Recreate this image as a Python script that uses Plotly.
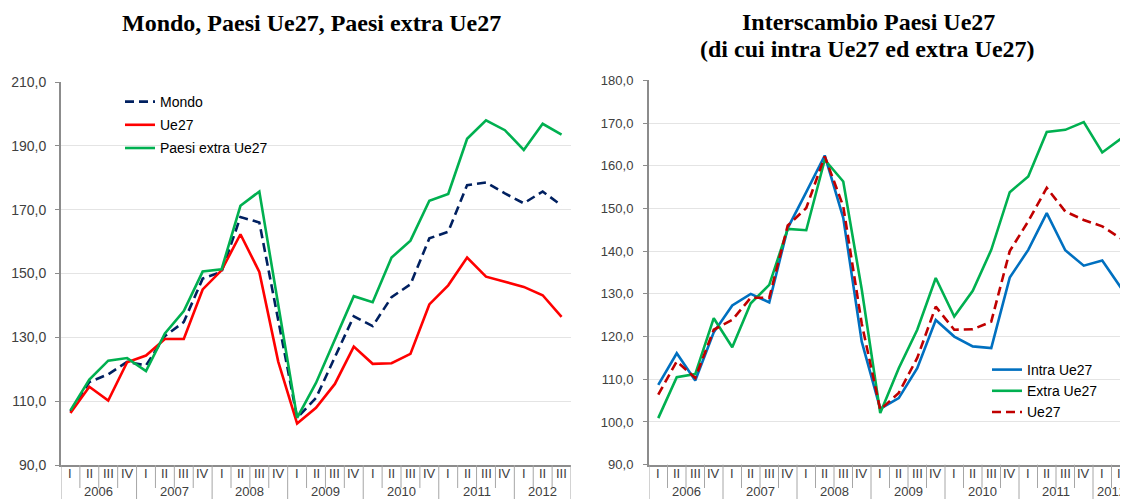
import plotly.graph_objects as go

W, H = 1128, 499

# ---------------- data ----------------
years = ["2006", "2007", "2008", "2009", "2010", "2011", "2012"]
quarters = ["I", "II", "III", "IV"]
n_last_year_quarters = 3

# Left panel: Mondo, Paesi Ue27, Paesi extra Ue27
mondo = [106.7, 116.0, 118.4, 122.3,
         121.2, 130.4, 134.8, 148.4,
         150.5, 167.7, 166.0, 136.0,
         104.8, 111.0, 124.0, 136.6,
         133.5, 142.6, 146.6, 161.0,
         163.1, 177.7, 178.5, 175.1,
         172.0, 175.7, 171.3]
ue27_left = [106.3, 114.5, 110.2, 122.2,
             124.3, 129.5, 129.5, 145.0,
             151.0, 162.3, 150.5, 122.4,
             103.0, 107.9, 115.4, 127.1,
             121.7, 121.9, 124.8, 140.3,
             146.3, 155.0, 149.0, 147.4,
             145.8, 143.2, 136.4]
extra_left = [107.1, 116.8, 122.7, 123.5,
              119.4, 131.2, 138.2, 150.6,
              151.3, 171.2, 175.7, 140.4,
              104.8, 115.7, 129.3, 142.9,
              141.0, 155.0, 160.3, 172.8,
              174.9, 192.2, 198.0, 194.9,
              188.7, 196.9, 193.5]

# Right panel: Interscambio Paesi Ue27
intra_right = [108.7, 116.1, 109.7, 121.0,
               127.3, 130.0, 128.0, 145.4,
               153.8, 162.4, 147.8, 118.8,
               103.1, 105.6, 112.6, 123.9,
               120.0, 117.7, 117.3, 133.8,
               140.3, 148.9, 140.2, 136.6,
               137.8, 131.5, 123.5]
extra_right = [100.9, 110.5, 111.2, 124.3,
               117.5, 127.8, 132.1, 145.2,
               144.9, 161.4, 156.3, 131.0,
               102.1, 112.6, 121.6, 133.7,
               124.7, 130.7, 140.3, 153.8,
               157.5, 167.9, 168.4, 170.2,
               163.1, 166.3, 163.2]
ue27_right = [106.4, 114.2, 110.3, 121.6,
              123.9, 129.1, 129.1, 146.0,
              150.1, 162.2, 150.5, 123.0,
              102.9, 106.8, 115.0, 127.0,
              121.6, 121.7, 123.5, 140.0,
              147.0, 154.8, 149.3, 147.3,
              145.8, 143.0, 136.0]

left_names = ["Mondo", "Ue27", "Paesi extra Ue27"]
right_names = ["Intra Ue27", "Extra Ue27", "Ue27"]
title_left = "Mondo, Paesi Ue27, Paesi extra Ue27"
title_right_1 = "Interscambio Paesi Ue27"
title_right_2 = "(di cui intra Ue27 ed extra Ue27)"

# ---------------- helpers ----------------
periods = []
for yi, yr in enumerate(years):
    qs = quarters if yi < len(years) - 1 else quarters[:n_last_year_quarters]
    for q in qs:
        periods.append((yr, q))
N = len(periods)
xs = list(range(N))


def py(px):
    return 1 - px / H


def pxx(px):
    return px / W


AX_GRAY = "#8c8c8c"
DIV_GRAY = "#a6a6a6"
TXT = "#404040"
SANS = "Liberation Sans, Arial, sans-serif"
SERIF = "Liberation Serif, Times New Roman, serif"

fig = go.Figure()

# Left traces
fig.add_trace(go.Scatter(x=xs, y=mondo, name=left_names[0], mode="lines",
                         line=dict(color="#002060", width=2.6, dash="9px,5px"),
                         xaxis="x", yaxis="y", legend="legend", legendgroup="a"))
fig.add_trace(go.Scatter(x=xs, y=ue27_left, name=left_names[1], mode="lines",
                         line=dict(color="#FF0000", width=2.6),
                         xaxis="x", yaxis="y", legend="legend", legendgroup="b"))
fig.add_trace(go.Scatter(x=xs, y=extra_left, name=left_names[2], mode="lines",
                         line=dict(color="#00B050", width=2.6),
                         xaxis="x", yaxis="y", legend="legend", legendgroup="c"))

# Right traces
fig.add_trace(go.Scatter(x=xs, y=intra_right, name=right_names[0], mode="lines",
                         line=dict(color="#0070C0", width=2.6),
                         xaxis="x2", yaxis="y2", legend="legend2", legendgroup="d"))
fig.add_trace(go.Scatter(x=xs, y=extra_right, name=right_names[1], mode="lines",
                         line=dict(color="#00B050", width=2.6),
                         xaxis="x2", yaxis="y2", legend="legend2", legendgroup="e"))
fig.add_trace(go.Scatter(x=xs, y=ue27_right, name=right_names[2], mode="lines",
                         line=dict(color="#C00000", width=2.6, dash="9px,5px"),
                         xaxis="x2", yaxis="y2", legend="legend2", legendgroup="f"))

# Axis geometry (pixels)
L_x0, L_x1 = 53, 563
R_x0, R_step = 641, 18.5
L_ytop, L_ybot = 74, 457
R_ytop, R_ybot = 72.3, 456.7

r_range_end = -0.5 + (W - R_x0) / R_step

common_x = dict(showgrid=False, zeroline=False, showticklabels=False, ticks="",
                showline=True, linecolor=AX_GRAY, linewidth=2, fixedrange=True)
common_y = dict(showgrid=True, gridcolor="#e4e4e4", gridwidth=1, zeroline=False,
                showline=True, linecolor=AX_GRAY, linewidth=2,
                ticks="outside", ticklen=4, tickcolor=AX_GRAY, tickwidth=1,
                tickformat=".1f", automargin=False, tick0=90,
                ticklabelstandoff=6,
                tickfont=dict(family=SANS, size=14, color=TXT))

fig.update_layout(
    width=W, height=H,
    margin=dict(l=0, r=0, t=0, b=0),
    paper_bgcolor="white", plot_bgcolor="white",
    separators=",.",
    showlegend=True,
    xaxis=dict(domain=[pxx(L_x0), pxx(L_x1)], range=[-0.5, N - 0.5], anchor="y", **common_x),
    yaxis=dict(domain=[py(L_ybot), py(L_ytop)], range=[90, 210], dtick=20, anchor="x", **common_y),
    xaxis2=dict(domain=[pxx(R_x0), 1], range=[-0.5, r_range_end], anchor="y2", **common_x),
    yaxis2=dict(domain=[py(R_ybot), py(R_ytop)], range=[90, 180], dtick=10, anchor="x2",
                **{**common_y, "ticklabelstandoff": 7,
                   "tickfont": dict(family=SANS, size=13, color=TXT)}),
    legend=dict(x=pxx(112), y=py(78), xanchor="left", yanchor="top",
                bgcolor="rgba(0,0,0,0)", tracegroupgap=2, traceorder="grouped",
                font=dict(family=SANS, size=14, color="#000000")),
    legend2=dict(x=pxx(979), y=py(346), xanchor="left", yanchor="top",
                 bgcolor="rgba(0,0,0,0)", tracegroupgap=0, traceorder="grouped",
                 font=dict(family=SANS, size=14, color="#000000")),
)

annotations = []
shapes = []

# Titles
annotations.append(dict(text="<b>" + title_left + "</b>", x=pxx(303.5), y=py(15),
                        xref="paper", yref="paper", xanchor="center", yanchor="middle",
                        showarrow=False, font=dict(family=SERIF, size=24, color="#000000")))
annotations.append(dict(text="<b>" + title_right_1 + "</b>", x=pxx(860.5), y=py(14),
                        xref="paper", yref="paper", xanchor="center", yanchor="middle",
                        showarrow=False, font=dict(family=SERIF, size=24, color="#000000")))
annotations.append(dict(text="<b>" + title_right_2 + "</b>", x=pxx(859.5), y=py(40.5),
                        xref="paper", yref="paper", xanchor="center", yanchor="middle",
                        showarrow=False, font=dict(family=SERIF, size=24, color="#000000")))

# Category axis labels and dividers for both panels
for xref, ybot, vis_end in (("x", L_ybot, N - 0.5), ("x2", R_ybot, r_range_end)):
    # quarter labels
    for i, (yr, q) in enumerate(periods):
        annotations.append(dict(text=q, x=i, y=py(465), xref=xref, yref="paper",
                                xanchor="center", yanchor="middle", showarrow=False,
                                font=dict(family=SANS, size=13, color=TXT)))
    # year labels and dividers
    for yr in years:
        idx = [i for i, p in enumerate(periods) if p[0] == yr]
        c = (idx[0] + idx[-1]) / 2
        c = min(c, vis_end - 1.35)  # keep the label inside the visible plot area
        annotations.append(dict(text=yr, x=c, y=py(483), xref=xref, yref="paper",
                                xanchor="center", yanchor="middle", showarrow=False,
                                font=dict(family=SANS, size=13, color=TXT)))
        shapes.append(dict(type="line", xref=xref, yref="paper",
                           x0=idx[0] - 0.5, x1=idx[0] - 0.5, y0=py(ybot), y1=py(H + 2),
                           line=dict(color=DIV_GRAY, width=1)))
        for i in idx[1:]:
            shapes.append(dict(type="line", xref=xref, yref="paper",
                               x0=i - 0.5, x1=i - 0.5, y0=py(ybot), y1=py(480),
                               line=dict(color=DIV_GRAY, width=1)))
    shapes.append(dict(type="line", xref=xref, yref="paper",
                       x0=N - 0.5, x1=N - 0.5, y0=py(ybot), y1=py(H + 2),
                       line=dict(color=DIV_GRAY, width=1)))

fig.update_layout(annotations=annotations, shapes=shapes)

fig.write_html("out.html")
